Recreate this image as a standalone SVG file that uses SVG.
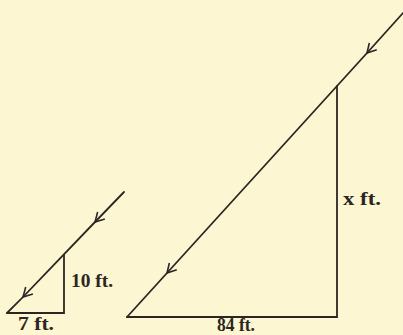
<svg xmlns="http://www.w3.org/2000/svg" width="403" height="335" viewBox="0 0 403 335">
<style>
.ln{stroke:#2b2622;stroke-width:1.8;fill:none;stroke-linecap:round}
.lb{font-family:"Liberation Serif",serif;font-weight:bold;font-size:19px;fill:#2b2622}
</style>
<defs>
<marker id="ah" markerWidth="14" markerHeight="14" refX="0" refY="0" viewBox="-10 -7 14 14" orient="auto" markerUnits="userSpaceOnUse">
<path d="M-9,-5 L0,0 L-9,5" fill="none" stroke="#2b2622" stroke-width="1.6"/>
</marker>
</defs>
<rect width="403" height="335" fill="#fcf7d2"/>
<g id="small-triangle">
<path class="ln" d="M124,192 L95,222 L23,297 L7,313" marker-mid="url(#ah)"/>
<path class="ln" d="M64,255 L64,313 L7,313"/>
<text class="lb" x="71" y="287" textLength="42" lengthAdjust="spacingAndGlyphs">10 ft.</text>
<text class="lb" x="18" y="330" textLength="36" lengthAdjust="spacingAndGlyphs">7 ft.</text>
</g>
<g id="large-triangle">
<path class="ln" d="M403,13 L367,53 L167,273 L127,317" marker-mid="url(#ah)"/>
<path class="ln" d="M337,86 L337,317 L127,317"/>
<text class="lb" x="343" y="205" textLength="38" lengthAdjust="spacingAndGlyphs">x ft.</text>
<text class="lb" x="217" y="331" font-size="18" textLength="38" lengthAdjust="spacingAndGlyphs">84 ft.</text>
</g>
</svg>
